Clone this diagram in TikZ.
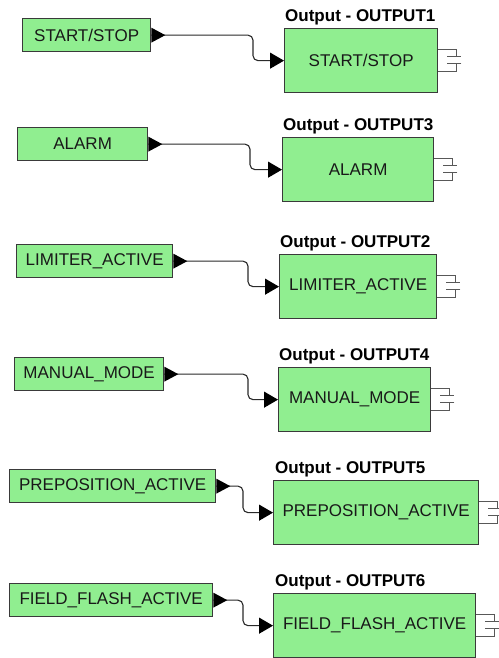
\documentclass[tikz,border=0pt]{standalone}
\usepackage{fontspec}
\setmainfont{Liberation Sans}
\usetikzlibrary{arrows.meta,calc}
\definecolor{boxfill}{HTML}{90EE90}
\definecolor{boxline}{HTML}{3A3A3A}
\definecolor{wirec}{HTML}{2A2A2A}
\begin{document}
\begin{tikzpicture}[x=1pt,y=-1pt,
  gbox/.style={draw=boxline, fill=boxfill, line width=1.3pt, inner sep=0pt, anchor=north west,
    font=\fontsize{17}{20}\selectfont, text=black!90},
  lbox/.style={gbox, minimum height=33pt},
  rbox/.style={gbox, minimum height=64pt},
  titletext/.style={anchor=base west, font=\bfseries\fontsize{17}{20}\selectfont, inner sep=0pt, text=black},
  wire/.style={draw=wirec, line width=1.1pt, rounded corners=5pt, -{Triangle[length=14pt,width=16pt,color=black]}},
  portfill/.style={fill=black},
  sym/.style={draw=boxline!85, line width=1pt}]
\useasboundingbox (0,0) rectangle (498,658);
\fill[white] (0,0) rectangle (498,658);

% Row 1
\node[lbox, minimum width=128pt] (L1) at (22,18) {START/STOP};
\node[rbox, minimum width=153pt] (R1) at (284,28) {START/STOP};
\node[titletext] (T1) at ($(R1.north west)+(1,-6.5)$) {Output - OUTPUT1};
\coordinate (V1) at (253,47);
% Row 2
\node[lbox, minimum width=130pt] (L2) at (17,127) {ALARM};
\node[rbox, minimum width=151pt] (R2) at (282,137) {ALARM};
\node[titletext] (T2) at ($(R2.north west)+(1,-6.5)$) {Output - OUTPUT3};
\coordinate (V2) at (250,156);
% Row 3
\node[lbox, minimum width=156pt] (L3) at (16,244) {LIMITER\_ACTIVE};
\node[rbox, minimum width=157pt] (R3) at (279,254) {LIMITER\_ACTIVE};
\node[titletext] (T3) at ($(R3.north west)+(1,-6.5)$) {Output - OUTPUT2};
\coordinate (V3) at (248,273);
% Row 4
\node[lbox, minimum width=149pt] (L4) at (14,357) {MANUAL\_MODE};
\node[rbox, minimum width=152pt] (R4) at (278,367) {MANUAL\_MODE};
\node[titletext] (T4) at ($(R4.north west)+(1,-6.5)$) {Output - OUTPUT4};
\coordinate (V4) at (248,386);
% Row 5
\node[lbox, minimum width=206pt] (L5) at (9,469) {PREPOSITION\_ACTIVE};
\node[rbox, minimum width=205pt] (R5) at (273,480) {PREPOSITION\_ACTIVE};
\node[titletext] (T5) at ($(R5.north west)+(2,-6.5)$) {Output - OUTPUT5};
\coordinate (V5) at (243,499);
% Row 6
\node[lbox, minimum width=203pt] (L6) at (9,583) {FIELD\_FLASH\_ACTIVE};
\node[rbox, minimum width=202pt] (R6) at (273,593) {FIELD\_FLASH\_ACTIVE};
\node[titletext] (T6) at ($(R6.north west)+(2,-6.5)$) {Output - OUTPUT6};
\coordinate (V6) at (243,612);

\foreach \i in {1,...,6}{
  \draw[wire] (L\i.east) -| (V\i) |- (R\i.west);
  \fill[portfill] ($(L\i.east)+(0,-7.5)$) -- ++(14,7.5) -- ++(-14,7.5) -- cycle;
  \draw[sym] (R\i.east) ++(0,-11) -- ++(18,0) -- ++(0,7.2)
    ++(-9.3,0) -- ++(14.3,0) ++(0,6.6) -- ++(-14.3,0)
    ++(9.3,0) -- ++(0,8.4) -- ++(-18,0);
}
\end{tikzpicture}
\end{document}
